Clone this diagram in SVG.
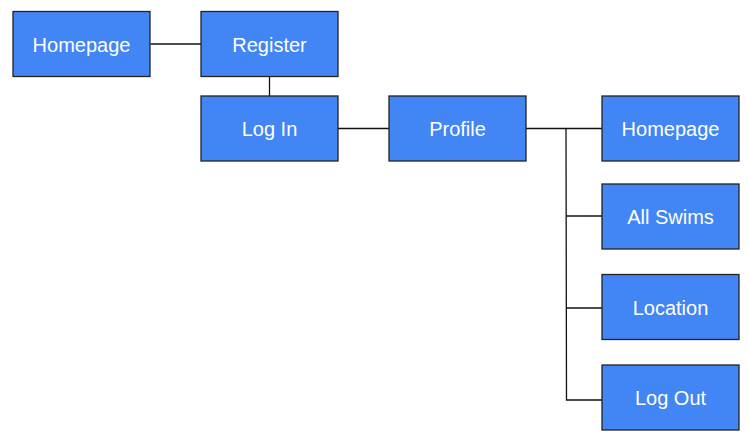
<svg xmlns="http://www.w3.org/2000/svg" width="748" height="445" viewBox="0 0 748 445">
<style>
.box{fill:#4285f4;stroke:#222;stroke-width:1.3}
.lbl{fill:#fff;font-family:"Liberation Sans",Arial,sans-serif;font-size:20px;text-anchor:middle}
.con{fill:none;stroke:#111;stroke-width:1.3}
</style>
<rect width="748" height="445" fill="#fff"/>
<g id="connectors">
<path class="con" d="M150.5 44H201"/>
<path class="con" d="M269.5 76.5V96"/>
<path class="con" d="M338 128.5H389"/>
<path class="con" d="M525.5 128.5H602"/>
<path class="con" d="M566 128.5L566.5 400H602"/>
<path class="con" d="M566.3 216H602"/>
<path class="con" d="M566.4 308H602"/>
</g>
<g id="homepage"><rect class="box" x="13" y="11.5" width="137" height="65"/><text class="lbl" x="81.5" y="51.5">Homepage</text></g>
<g id="register"><rect class="box" x="201" y="11.5" width="137" height="65"/><text class="lbl" x="269.5" y="51.5">Register</text></g>
<g id="login"><rect class="box" x="201" y="96" width="137" height="65"/><text class="lbl" x="269.5" y="136">Log In</text></g>
<g id="profile"><rect class="box" x="389" y="96" width="137" height="65"/><text class="lbl" x="457.5" y="136">Profile</text></g>
<g id="homepage2"><rect class="box" x="602" y="96" width="137" height="65"/><text class="lbl" x="670.5" y="136">Homepage</text></g>
<g id="allswims"><rect class="box" x="602" y="184" width="137" height="65"/><text class="lbl" x="670.5" y="224">All Swims</text></g>
<g id="location"><rect class="box" x="602" y="274.5" width="137" height="65"/><text class="lbl" x="670.5" y="314.5">Location</text></g>
<g id="logout"><rect class="box" x="602" y="365" width="137" height="65"/><text class="lbl" x="670.5" y="405">Log Out</text></g>
</svg>
